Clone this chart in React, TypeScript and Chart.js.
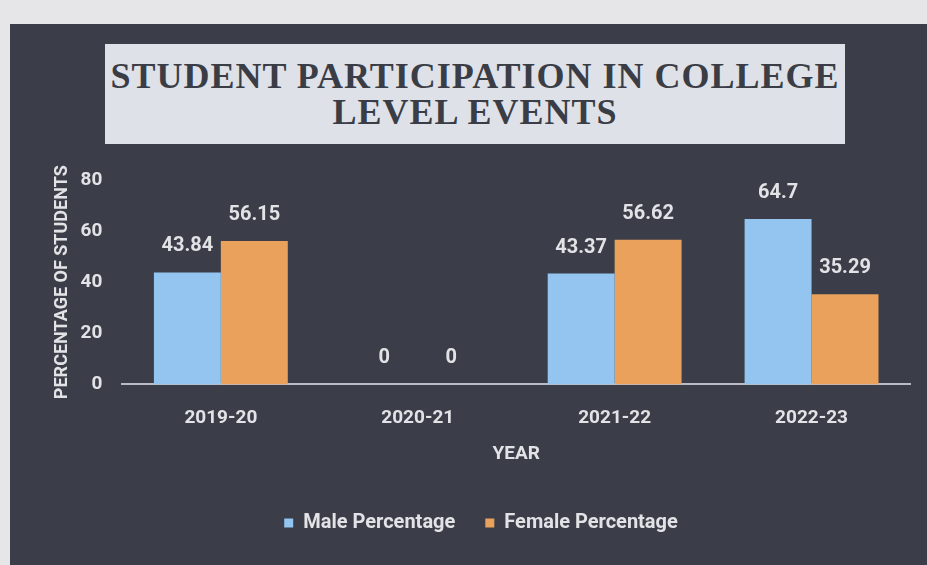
import React, { useEffect, useRef } from "react";
import { Chart, registerables } from "chart.js";

Chart.register(...registerables);

const categories = ["2019-20", "2020-21", "2021-22", "2022-23"];
const maleValues = [43.84, 0, 43.37, 64.7];
const femaleValues = [56.15, 0, 56.62, 35.29];
const seriesNames = ["Male Percentage", "Female Percentage"];
const yTicks = [0, 20, 40, 60, 80];
const titleLines = ["STUDENT PARTICIPATION IN COLLEGE", "LEVEL EVENTS"];

const NARROW = "Roboto, 'Liberation Sans', sans-serif";
const TEXT = "#e2e3e6";

const valueLabels = {
  id: "valueLabels",
  afterDatasetsDraw(chart: any) {
    const ctx = chart.ctx;
    ctx.save();
    ctx.fillStyle = TEXT;
    ctx.font = `bold 20px ${NARROW}`;
    ctx.textAlign = "center";
    ctx.textBaseline = "bottom";
    chart.data.datasets.forEach((ds: any, i: number) => {
      const meta = chart.getDatasetMeta(i);
      meta.data.forEach((bar: any, j: number) => {
        const v = ds.data[j];
        ctx.fillText(String(v), bar.x, bar.y - 16);
      });
    });
    ctx.restore();
  },
};

export default function App() {
  const ref = useRef<HTMLCanvasElement | null>(null);
  useEffect(() => {
    document.body.style.margin = "0";
    if (!ref.current) return;
    const chart = new Chart(ref.current, {
      type: "bar",
      data: {
        labels: categories,
        datasets: [
          {
            label: seriesNames[0],
            data: maleValues,
            backgroundColor: "#93c5f0",
            categoryPercentage: 0.68,
            barPercentage: 1,
          },
          {
            label: seriesNames[1],
            data: femaleValues,
            backgroundColor: "#e9a15c",
            categoryPercentage: 0.68,
            barPercentage: 1,
          },
        ],
      },
      options: {
        animation: false,
        responsive: false,
        maintainAspectRatio: false,
        layout: { padding: { top: 180, left: 52, right: 17, bottom: 22 } },
        plugins: {
          title: { display: false },
          tooltip: { enabled: false },
          legend: {
            position: "bottom",
            labels: {
              color: TEXT,
              font: { family: NARROW, size: 20, weight: "bold" },
              usePointStyle: true,
              pointStyle: "rect",
              boxWidth: 9,
              boxHeight: 9,
              padding: 30,
            },
          },
        },
        scales: {
          x: {
            grid: { display: false },
            border: { display: true, color: "#b9bcc4", width: 2 },
            ticks: {
              color: TEXT,
              font: { family: NARROW, size: 19, weight: "bold" },
              padding: 14,
            },
            title: {
              display: true,
              text: "YEAR",
              color: TEXT,
              font: { family: NARROW, size: 19, weight: "bold" },
              padding: { top: 0, bottom: 17 },
            },
          },
          y: {
            min: 0,
            max: 80,
            afterBuildTicks: (axis: any) => {
              axis.ticks = yTicks.map((v) => ({ value: v }));
            },
            grid: { display: false, drawTicks: false },
            border: { display: false },
            ticks: {
              color: TEXT,
              font: { family: NARROW, size: 19, weight: "bold" },
              padding: 20,
            },
            title: {
              display: true,
              text: "PERCENTAGE OF STUDENTS",
              color: TEXT,
              font: { family: NARROW, size: 18, weight: "bold" },
              padding: { top: 0, bottom: -13 },
            },
          },
        },
      },
      plugins: [valueLabels],
    });
    return () => chart.destroy();
  }, []);

  return (
    <div
      style={{
        position: "relative",
        width: 927,
        height: 565,
        background: "#e6e6e9",
        overflow: "hidden",
      }}
    >
      <div
        style={{
          position: "absolute",
          left: 10,
          top: 24,
          width: 917,
          height: 541,
          background: "#3b3e48",
        }}
      />
      <div
        style={{
          position: "absolute",
          left: 105,
          top: 44,
          width: 740,
          height: 100,
          background: "#dfe1e8",
          display: "flex",
          flexDirection: "column",
          alignItems: "center",
          justifyContent: "center",
          fontFamily: "'Liberation Serif', 'DejaVu Serif', serif",
          fontWeight: "bold",
          fontSize: 36,
          lineHeight: "36px",
          color: "#3a3d45",
          letterSpacing: 1,
        }}
      >
        {titleLines.map((t) => (
          <div key={t}>{t}</div>
        ))}
      </div>
      <canvas
        ref={ref}
        width={927}
        height={565}
        style={{ position: "absolute", left: 0, top: 0 }}
      />
    </div>
  );
}
